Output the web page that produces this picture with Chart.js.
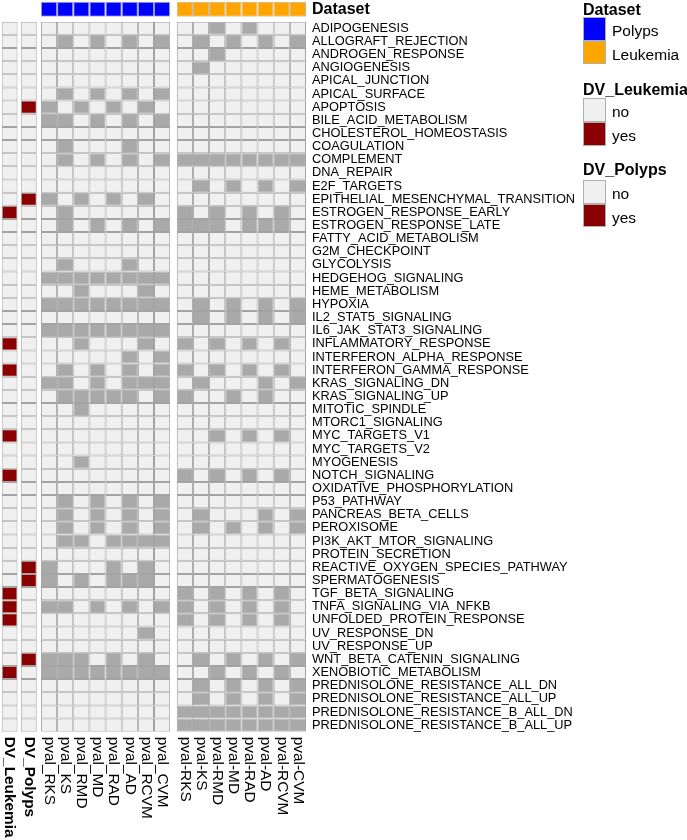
<!DOCTYPE html>
<html><head><meta charset="utf-8">
<script src="https://cdn.jsdelivr.net/npm/chart.js@4.4.0/dist/chart.umd.min.js"></script>
<style>
html,body{margin:0;padding:0;background:#fff;}
#wrap{position:relative;width:687px;height:840px;overflow:hidden;background:#fff;}
#wrap canvas{position:absolute;left:0;}
.lt{position:absolute;font-family:'Liberation Sans',Arial,sans-serif;color:#000;white-space:nowrap;line-height:1;}
.lt.b{font-weight:bold;font-size:16px;}
.lt.n{font-size:15.5px;}
.sw{position:absolute;box-sizing:border-box;border:1px solid #AFAFAF;width:23px;}
</style></head>
<body>
<div id="wrap">
  <canvas id="hdr" width="687" height="60" style="top:-20px"></canvas>
  <canvas id="main" width="687" height="840" style="top:0"></canvas>
</div>
<script>
// ---------------- data ----------------
const pathways = ['ADIPOGENESIS','ALLOGRAFT_REJECTION','ANDROGEN_RESPONSE','ANGIOGENESIS','APICAL_JUNCTION','APICAL_SURFACE','APOPTOSIS','BILE_ACID_METABOLISM','CHOLESTEROL_HOMEOSTASIS','COAGULATION','COMPLEMENT','DNA_REPAIR','E2F_TARGETS','EPITHELIAL_MESENCHYMAL_TRANSITION','ESTROGEN_RESPONSE_EARLY','ESTROGEN_RESPONSE_LATE','FATTY_ACID_METABOLISM','G2M_CHECKPOINT','GLYCOLYSIS','HEDGEHOG_SIGNALING','HEME_METABOLISM','HYPOXIA','IL2_STAT5_SIGNALING','IL6_JAK_STAT3_SIGNALING','INFLAMMATORY_RESPONSE','INTERFERON_ALPHA_RESPONSE','INTERFERON_GAMMA_RESPONSE','KRAS_SIGNALING_DN','KRAS_SIGNALING_UP','MITOTIC_SPINDLE','MTORC1_SIGNALING','MYC_TARGETS_V1','MYC_TARGETS_V2','MYOGENESIS','NOTCH_SIGNALING','OXIDATIVE_PHOSPHORYLATION','P53_PATHWAY','PANCREAS_BETA_CELLS','PEROXISOME','PI3K_AKT_MTOR_SIGNALING','PROTEIN_SECRETION','REACTIVE_OXYGEN_SPECIES_PATHWAY','SPERMATOGENESIS','TGF_BETA_SIGNALING','TNFA_SIGNALING_VIA_NFKB','UNFOLDED_PROTEIN_RESPONSE','UV_RESPONSE_DN','UV_RESPONSE_UP','WNT_BETA_CATENIN_SIGNALING','XENOBIOTIC_METABOLISM','PREDNISOLONE_RESISTANCE_ALL_DN','PREDNISOLONE_RESISTANCE_ALL_UP','PREDNISOLONE_RESISTANCE_B_ALL_DN','PREDNISOLONE_RESISTANCE_B_ALL_UP'];

const polypsColumns = ['pval_RKS','pval_KS','pval_RMD','pval_MD','pval_RAD','pval_AD','pval_RCVM','pval_CVM'];
const leukemiaColumns = ['pval-RKS','pval-KS','pval-RMD','pval-MD','pval-RAD','pval-AD','pval-RCVM','pval-CVM'];
const annotationColumns = ['DV_Leukemia','DV_Polyps'];

// 1 = yes / significant, 0 = no
const dvLeukemia = [0,0,0,0,0,0,0,0,0,0,0,0,0,0,1,0,0,0,0,0,0,0,0,0,1,0,1,0,0,0,0,1,0,0,1,0,0,0,0,0,0,0,0,1,1,1,0,0,0,1,0,0,0,0];
const dvPolyps   = [0,0,0,0,0,0,1,0,0,0,0,0,0,1,0,0,0,0,0,0,0,0,0,0,0,0,0,0,0,0,0,0,0,0,0,0,0,0,0,0,0,1,1,0,0,0,0,0,1,0,0,0,0,0];

const polypsSig = ['00000000','01010101','00000000','00000000','00000000','01010101','10101010','11010101','00000000','01000100','01010101','00000000','00000000','10101010','01000000','01010101','00000000','00000000','01000100','11111111','00100010','11111111','00000000','11111111','00100010','00000101','01010101','11010111','01111101','00100000','00000000','00000000','00000000','00100000','00000000','00000000','01010101','01010101','01010101','01101111','00000000','10001010','10101110','00000000','11010101','00000000','00000010','00000000','11101010','11111111','00000000','00000000','00000000','00000000'];
const leukemiaSig = ['00101000','01010101','00100000','01000000','00000000','00000000','00000000','00000000','00000000','00000000','11111111','00000000','01010101','00000000','10101010','11101110','00000000','00000000','00000000','00000000','00000000','01010101','01010101','00000000','10101010','00000000','10101010','01000101','10010100','00000000','00000000','00101010','00000000','00000000','10101010','00000000','00000000','01000101','01010101','00000000','00000000','00000000','00000000','10101010','10101010','10101010','00000000','00000000','01010101','00101010','01010101','01010101','11111111','11111111'];

const datasetGroups = ['Polyps','Leukemia'];

// ---------------- styling / layout ----------------
const FONT = "'Liberation Sans', Arial, sans-serif";
const C_LIGHT = '#F0F0F0', C_SIG = '#A9A9A9', C_YES = '#8B0000', C_BORDER = '#A3A3A3';
const C_POLYPS = '#0000FF', C_LEUK = '#FFA500';
// column slots on x (cell units)
const slots = [];
slots.push({x0:0, x1:0.98, label:annotationColumns[0], bold:true});
slots.push({x0:1.18, x1:2.17, label:annotationColumns[1], bold:true});
polypsColumns.forEach((l,j)=>slots.push({x0:2.43+j, x1:3.43+j, label:l}));
leukemiaColumns.forEach((l,j)=>slots.push({x0:10.84+j, x1:11.84+j, label:l}));
const XMAX = 18.84;

function cellDataset(slot, colors, border, n){
  return {
    data: Array.from({length:n}, ()=>[slot.x0, slot.x1]),
    backgroundColor: colors,
    borderColor: border,
    borderWidth: 1,
    borderSkipped: false,
    grouped: false,
    categoryPercentage: 1,
    barPercentage: 1,
    inflateAmount: 0
  };
}

const datasets = [];
datasets.push(cellDataset(slots[0], dvLeukemia.map(v=>v?C_YES:C_LIGHT), C_BORDER, pathways.length));
datasets.push(cellDataset(slots[1], dvPolyps.map(v=>v?C_YES:C_LIGHT), C_BORDER, pathways.length));
for(let j=0;j<8;j++) datasets.push(cellDataset(slots[2+j], polypsSig.map(s=>s[j]==='1'?C_SIG:C_LIGHT), C_BORDER, pathways.length));
for(let j=0;j<8;j++) datasets.push(cellDataset(slots[10+j], leukemiaSig.map(s=>s[j]==='1'?C_SIG:C_LIGHT), C_BORDER, pathways.length));

const colLabelPlugin = {
  id:'colLabels',
  afterDraw(chart){
    const ctx = chart.ctx, xs = chart.scales.x, top = chart.chartArea.bottom + 5;
    ctx.save();
    ctx.fillStyle = '#000';
    slots.forEach(s=>{
      const cx = xs.getPixelForValue((s.x0+s.x1)/2);
      ctx.save();
      ctx.translate(cx, top);
      ctx.rotate(Math.PI/2);
      ctx.font = (s.bold?'bold ':'') + '15.4px ' + FONT;
      ctx.textAlign = 'left';
      ctx.textBaseline = 'middle';
      ctx.fillText(s.label, 0, 0);
      ctx.restore();
    });
    ctx.restore();
  }
};

new Chart(document.getElementById('main'), {
  type:'bar',
  data:{labels: pathways, datasets},
  options:{
    indexAxis:'y', responsive:false, animation:false, devicePixelRatio:1,
    layout:{padding:{left:1.7, top:21.7, right:0, bottom:108.3}},
    scales:{
      x:{type:'linear', min:0, max:XMAX, display:false},
      y:{position:'right', grid:{display:false, drawTicks:false}, border:{display:false},
         ticks:{autoSkip:false, padding:6, color:'#000', font:{family:FONT, size:12.8}},
         afterFit(s){ s.width = 381; }}
    },
    plugins:{legend:{display:false}, tooltip:{enabled:false}}
  },
  plugins:[colLabelPlugin]
});

// header annotation (Dataset)
const hdrSets = [];
for(let j=0;j<8;j++) hdrSets.push(cellDataset(slots[2+j], C_POLYPS, '#9A9ACF', 1));
for(let j=0;j<8;j++) hdrSets.push(cellDataset(slots[10+j], C_LEUK, '#C9B48E', 1));
new Chart(document.getElementById('hdr'), {
  type:'bar',
  data:{labels:['Dataset'], datasets:hdrSets},
  options:{
    indexAxis:'y', responsive:false, animation:false, devicePixelRatio:1,
    layout:{padding:{left:1.7, top:21.7, right:0, bottom:23.3}},
    scales:{
      x:{type:'linear', min:0, max:XMAX, display:false},
      y:{position:'right', grid:{display:false, drawTicks:false}, border:{display:false},
         ticks:{padding:6, color:'#000', font:{family:FONT, size:16, weight:'bold'}},
         afterFit(s){ s.width = 381; }}
    },
    plugins:{legend:{display:false}, tooltip:{enabled:false}}
  }
});

// legend (HTML text)
const legendGroups = [
  {title:'Dataset', titleTop:1.5, items:[{t:datasetGroups[0], c:C_POLYPS, y:17.3},{t:datasetGroups[1], c:C_LEUK, y:40.7}]},
  {title:annotationColumns[0], titleTop:81.5, items:[{t:'no', c:C_LIGHT, y:98.3},{t:'yes', c:C_YES, y:122}]},
  {title:annotationColumns[1], titleTop:161.5, items:[{t:'no', c:C_LIGHT, y:180},{t:'yes', c:C_YES, y:203.5}]}
];
const wrap = document.getElementById('wrap');
legendGroups.forEach(g=>{
  const h = document.createElement('div'); h.className='lt b'; h.textContent=g.title;
  h.style.left='583px'; h.style.top=g.titleTop+'px'; wrap.appendChild(h);
  g.items.forEach(it=>{
    const sw=document.createElement('div'); sw.className='sw';
    sw.style.left='583px'; sw.style.top=it.y+'px'; sw.style.height='23.5px'; sw.style.background=it.c;
    wrap.appendChild(sw);
    const t=document.createElement('div'); t.className='lt n'; t.textContent=it.t;
    t.style.left='612px'; t.style.top=(it.y+6)+'px'; wrap.appendChild(t);
  });
});
</script>
</body></html>
